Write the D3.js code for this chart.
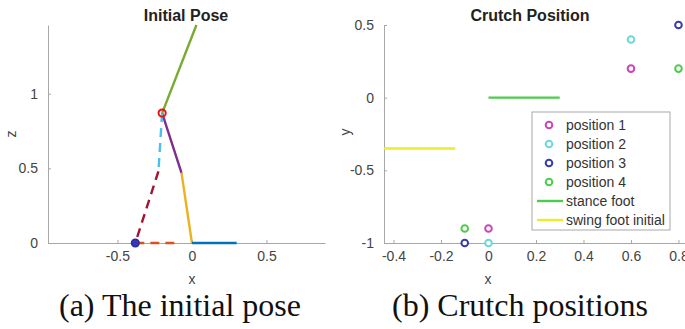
<!DOCTYPE html>
<html>
<head>
<meta charset="utf-8">
<script src="https://cdn.jsdelivr.net/npm/d3@7"></script>
<style>
body{margin:0;background:#fff;}
svg text{font-family:"Liberation Sans",Arial,sans-serif;}
.axis path,.axis line{stroke:#a8a8a8;}
.axis text{fill:#444;font-size:14px;font-family:"Liberation Sans",Arial,sans-serif;}
.cap{font-family:"Liberation Serif","Times New Roman",serif !important;font-size:32px;fill:#111;}
</style>
</head>
<body>
<svg id="fig" width="685" height="329"></svg>
<script>
// ---- data : initial pose (x , z)
var torso   = [[-0.2,0.87],[0.03,1.46]]
	,thigh  = [[-0.2,0.87],[-0.07,0.47]]
	,shank  = [[-0.07,0.47],[0,0]]
	,foot   = [[0,0],[0.3,0]]
	,arm    = [[-0.2,0.87],[-0.225,0.48]]
	,crutch = [[-0.225,0.48],[-0.38,0]]
	,swing  = [[-0.38,0],[-0.08,0]]
	,shoulder = [-0.2,0.87]
	,tip      = [-0.38,0];
var poseXTicks = [-0.5,0,0.5]
	,poseZTicks = [0,0.5,1];

// ---- data : crutch positions (x , y)
var posNames = ['position 1','position 2','position 3','position 4'];
var pos1 = [[0,-0.9],[0.6,0.2]]
	,pos2 = [[0,-1],[0.6,0.4]]
	,pos3 = [[-0.1,-1],[0.8,0.5]]
	,pos4 = [[-0.1,-0.9],[0.8,0.2]];
var stanceFoot = [[0,0],[0.3,0]]
	,swingFoot = [[-0.44,-0.35],[-0.14,-0.35]];
var crutchXTicks = [-0.4,-0.2,0,0.2,0.4,0.6,0.8]
	,crutchYTicks = [-1,-0.5,0,0.5];

var svg = d3.select('#fig');
var line = function(sx,sy){ return d3.line().x(function(d){return sx(d[0]);}).y(function(d){return sy(d[1]);}); };
var fmt = function(d){ return String(d); };   // matlab style, plain hyphen

/* ---------------- left : initial pose ---------------- */
var x1 = d3.scaleLinear().domain([-0.966,0.893]).range([48,325]);
var z1 = d3.scaleLinear().domain([0,1.46]).range([243,25]);
var gL = svg.append('g');

gL.append('g').attr('class','axis').attr('transform','translate(0,243)')
	.call(d3.axisBottom(x1).tickValues(poseXTicks).tickSizeInner(-3).tickSizeOuter(0).tickPadding(8).tickFormat(fmt));
gL.append('g').attr('class','axis').attr('transform','translate(48,0)')
	.call(d3.axisLeft(z1).tickValues(poseZTicks).tickSizeInner(-3).tickSizeOuter(0).tickPadding(10).tickFormat(fmt));

var lf = line(x1,z1);
var segs = [
	{d:torso , c:'#77AC30'},
	{d:thigh , c:'#7E2F8E'},
	{d:shank , c:'#EDB120'},
	{d:foot  , c:'#0072BD'},
	{d:arm   , c:'#4DBEEE', dash:'9,6'},
	{d:crutch, c:'#A2142F', dash:'9,6'},
	{d:swing , c:'#D95319', dash:'9,6'}
];
segs.forEach(function(s){
	gL.append('path').attr('d',lf(s.d)).attr('fill','none')
		.attr('stroke',s.c).attr('stroke-width',2.4)
		.attr('stroke-dasharray',s.dash||null);
});
gL.append('circle').attr('cx',x1(shoulder[0])).attr('cy',z1(shoulder[1])).attr('r',3.6)
	.attr('fill','none').attr('stroke','#ee1111').attr('stroke-width',2);
gL.append('circle').attr('cx',x1(tip[0])).attr('cy',z1(tip[1])).attr('r',3.8)
	.attr('fill','#3838b0').attr('stroke','#2a2aa8').attr('stroke-width',1.5);

gL.append('text').attr('x',186).attr('y',21).attr('text-anchor','middle')
	.attr('font-weight','bold').attr('font-size',16).attr('fill','#222').text('Initial Pose');
gL.append('text').attr('x',192).attr('y',284).attr('text-anchor','middle')
	.attr('font-size',14).attr('fill','#444').text('x');
gL.append('text').attr('transform','translate(16,134) rotate(-90)').attr('text-anchor','middle')
	.attr('font-size',14).attr('fill','#444').text('z');

/* ---------------- right : crutch position ---------------- */
var x2 = d3.scaleLinear().domain([-0.44,0.83]).range([384,685.6]);
var y2 = d3.scaleLinear().domain([-1,0.5]).range([243,25]);
var gR = svg.append('g');

gR.append('g').attr('class','axis').attr('transform','translate(0,243)')
	.call(d3.axisBottom(x2).tickValues(crutchXTicks).tickSizeInner(-3).tickSizeOuter(0).tickPadding(8).tickFormat(fmt));
gR.append('g').attr('class','axis').attr('transform','translate(384,0)')
	.call(d3.axisLeft(y2).tickValues(crutchYTicks).tickSizeInner(-3).tickSizeOuter(0).tickPadding(10).tickFormat(fmt));

var lr = line(x2,y2);
gR.append('path').attr('d',lr(stanceFoot)).attr('fill','none').attr('stroke','#4ccc4c').attr('stroke-width',2.4);
gR.append('path').attr('d',lr(swingFoot)).attr('fill','none').attr('stroke','#ecec2a').attr('stroke-width',2.4);

var posColors = ['#cc44bb','#6ed8d8','#3a3aa8','#4ccc4c'];
[pos1,pos2,pos3,pos4].forEach(function(p,i){
	gR.selectAll(null).data(p).enter().append('circle')
		.attr('cx',function(d){return x2(d[0]);}).attr('cy',function(d){return y2(d[1]);})
		.attr('r',3.3).attr('fill','#fff').attr('stroke',posColors[i]).attr('stroke-width',2);
});

// legend
var lg = gR.append('g').attr('transform','translate(532,112)');
lg.append('rect').attr('width',138).attr('height',118).attr('fill','#fff').attr('stroke','#a8a8a8').attr('stroke-width',1);
var rowH = 19, row0 = 13;
posNames.forEach(function(n,i){
	lg.append('circle').attr('cx',17).attr('cy',row0+i*rowH).attr('r',3.3)
		.attr('fill','#fff').attr('stroke',posColors[i]).attr('stroke-width',2);
	lg.append('text').attr('x',34).attr('y',row0+i*rowH+5).attr('font-size',14).attr('fill','#333').text(n);
});
[['stance foot','#4ccc4c'],['swing foot initial','#ecec2a']].forEach(function(e,j){
	var yy = row0+(4+j)*rowH;
	lg.append('line').attr('x1',5).attr('x2',31).attr('y1',yy).attr('y2',yy).attr('stroke',e[1]).attr('stroke-width',2.4);
	lg.append('text').attr('x',34).attr('y',yy+5).attr('font-size',14).attr('fill','#333').text(e[0]);
});

gR.append('text').attr('x',530).attr('y',21).attr('text-anchor','middle')
	.attr('font-weight','bold').attr('font-size',16).attr('fill','#222').text('Crutch Position');
gR.append('text').attr('x',488).attr('y',284).attr('text-anchor','middle')
	.attr('font-size',14).attr('fill','#444').text('x');
gR.append('text').attr('transform','translate(350,132) rotate(-90)').attr('text-anchor','middle')
	.attr('font-size',14).attr('fill','#444').text('y');

// captions
svg.append('text').attr('class','cap').attr('x',180).attr('y',316).attr('text-anchor','middle').text('(a) The initial pose');
svg.append('text').attr('class','cap').attr('x',520).attr('y',316).attr('text-anchor','middle').text('(b) Crutch positions');
</script>
</body>
</html>
